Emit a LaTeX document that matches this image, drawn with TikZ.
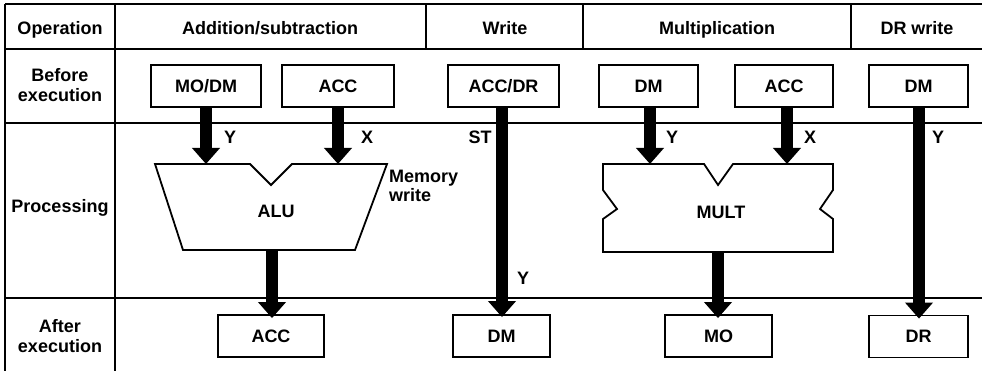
\documentclass[tikz,border=0pt]{standalone}
\usepackage{fontspec}
\setmainfont{Liberation Sans}
\usetikzlibrary{arrows.meta}
\tikzset{
  tbl/.style={line width=1.3pt},
  box/.style={draw, line width=1.8pt, minimum height=42pt, inner sep=0pt, font=\bfseries\fontsize{18}{21}\selectfont},
  txt/.style={inner sep=0pt, anchor=base, font=\bfseries\fontsize{18}{20.5}\selectfont, align=center},
  lbl/.style={inner sep=0pt, font=\bfseries\fontsize{18}{21}\selectfont},
  fat/.style={line width=11.5pt, -{Triangle[width=27pt,length=16pt]}},
  unit/.style={line width=1.8pt, line join=miter}
}
\begin{document}
\begin{tikzpicture}[x=1pt,y=-1pt]
\useasboundingbox (0,0) rectangle (982,371);
% table
\draw[tbl] (5,4) -- (982,4);
\draw[tbl] (5,49) -- (982,49);
\draw[tbl] (5,123) -- (982,123);
\draw[tbl] (5,298) -- (982,298);
\draw[tbl] (5,4) -- (5,371);
\draw[tbl] (115,4) -- (115,371);
\draw[tbl] (426,4) -- (426,49);
\draw[tbl] (583,4) -- (583,49);
\draw[tbl] (851,4) -- (851,49);
% headers
\node[txt] (hop) at (60,34.5) {Operation};
\node[txt] (has) at (270,34.5) {Addition/subtraction};
\node[txt] (hw) at (505,34.5) {Write};
\node[txt] (hm) at (717,34.5) {Multiplication};
\node[txt] (hdr) at (917,34.5) {DR write};
\node[txt] (rbe) at (60,102) {Before\\execution};
\node[txt] (rpr) at (60,213) {Processing};
\node[txt] (rae) at (60,352.5) {After\\execution};
% before boxes
\node[box, minimum width=110pt] (modm) at (206,86) {MO/DM};
\node[box, minimum width=112pt] (acc1) at (338,86) {ACC};
\node[box, minimum width=111pt] (accdr) at (503.5,86) {ACC/DR};
\node[box, minimum width=99pt] (dm2) at (648.5,86) {DM};
\node[box, minimum width=98pt] (acc3) at (784,86) {ACC};
\node[box, minimum width=99pt] (dm4) at (918.5,86) {DM};
% after boxes
\node[box, minimum width=106pt] (accO) at (271,336) {ACC};
\node[box, minimum width=97pt] (dmO) at (501.5,336) {DM};
\node[box, minimum width=107pt] (moO) at (718.5,336) {MO};
\node[box, minimum width=99pt] (drO) at (918.5,336.5) {DR};
% ALU
\draw[unit] (155,164) -- (250,164) -- (271,185) -- (292,164) -- (387,164) -- (355,250) -- (183,250) -- cycle;
\node[lbl] (alu) at (276,211) {ALU};
\coordinate (aluY) at (206,164);
\coordinate (aluX) at (338,164);
\coordinate (aluO) at (272,250);
\node[inner sep=0pt, anchor=base west, font=\bfseries\fontsize{18}{19}\selectfont, align=left] (mw) at (389,202) {Memory\\write};
% MULT
\draw[unit] (603,164) -- (704,164) -- (718,185) -- (733,164) -- (833,164) -- (833,190) -- (820,209) -- (833,219) -- (833,252) -- (603,252) -- (603,219) -- (617,209) -- (603,190) -- cycle;
\node[lbl] (mult) at (721,212) {MULT};
\coordinate (mY) at (650,164);
\coordinate (mX) at (787,164);
\coordinate (mO) at (718,252);
% arrows
\draw[fat] (modm.south -| aluY) -- (aluY);
\draw[fat] (acc1.south -| aluX) -- (aluX);
\draw[fat] (aluO) -- ([yshift=-4pt]accO.north -| aluO);
\draw[fat] (accdr.south -| 502,0) -- ([yshift=-3pt]dmO.north -| 502,0);
\draw[fat] (dm2.south -| mY) -- (mY);
\draw[fat] (acc3.south -| mX) -- (mX);
\draw[fat] (mO) -- ([yshift=-4pt]moO.north -| mO);
\draw[fat] (dm4.south -| 919,0) -- ([yshift=-4pt]drO.north -| 919,0);
% labels
\node[lbl] (ly1) at (230,137) {Y};
\node[lbl] (lx1) at (367,137) {X};
\node[lbl] (lst) at (480,137) {ST};
\node[lbl] (ly2) at (523,278) {Y};
\node[lbl] (ly3) at (672,137) {Y};
\node[lbl] (lx3) at (810,137) {X};
\node[lbl] (ly4) at (938,137) {Y};
\end{tikzpicture}
\end{document}
